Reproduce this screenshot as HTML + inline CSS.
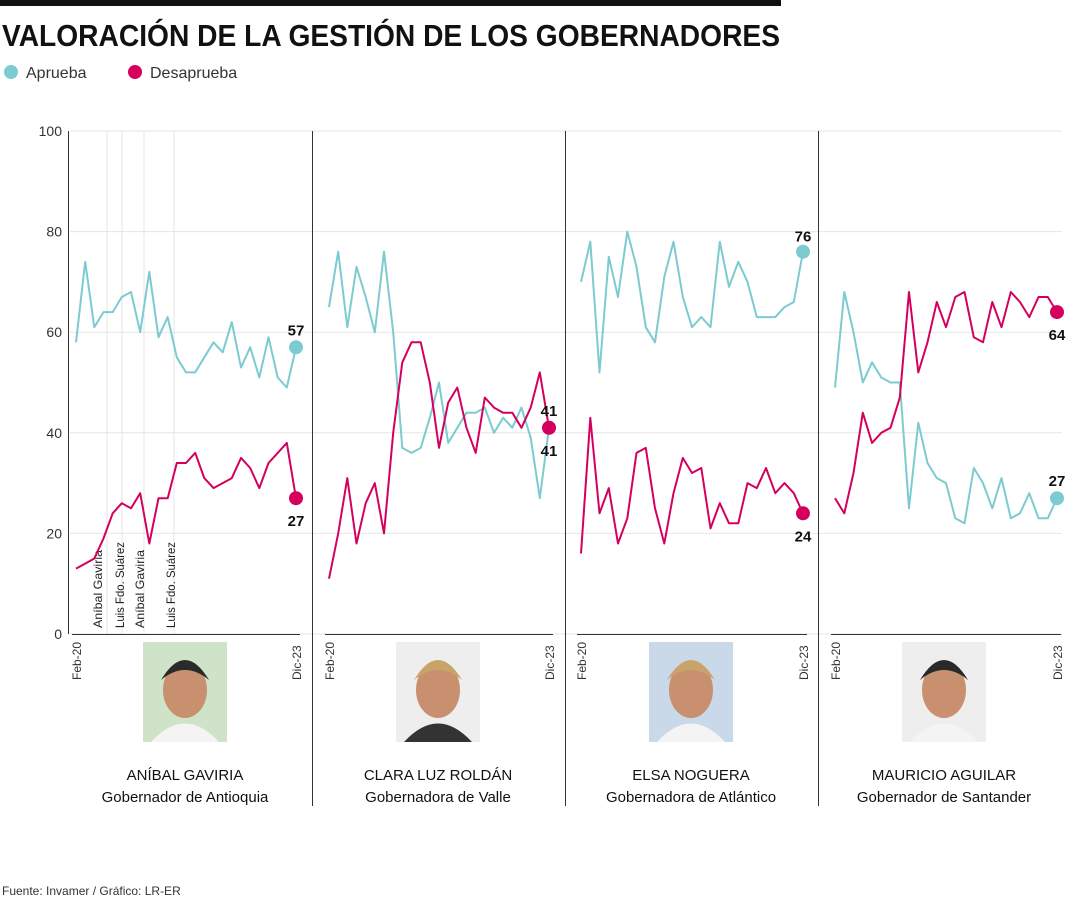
<!DOCTYPE html>
<html><head><meta charset="utf-8">
<style>
body{margin:0;background:#fff;width:1080px;height:900px;overflow:hidden;font-family:"Liberation Sans",sans-serif}
svg{display:block}
</style></head><body>
<svg id="s" width="1080" height="900" xmlns="http://www.w3.org/2000/svg" font-family="Liberation Sans, sans-serif">
<rect x="0" y="0" width="781" height="6" fill="#111"/>
<text x="2" y="46" font-size="31" font-weight="bold" fill="#111" textLength="778" lengthAdjust="spacingAndGlyphs">VALORACIÓN DE LA GESTIÓN DE LOS GOBERNADORES</text>
<circle cx="11" cy="72" r="7" fill="#7ccbd0"/>
<text x="26" y="78" font-size="16" fill="#333">Aprueba</text>
<circle cx="135" cy="72" r="7" fill="#d5005e"/>
<text x="150" y="78" font-size="16" fill="#333">Desaprueba</text>
<text x="2" y="895" font-size="12" fill="#333">Fuente: Invamer / Gráfico: LR-ER</text>
<g id="g"></g>
</svg>
<script>
const Y=v=>634-v*5.03;
const panels=[
{x0:76,x1:296,a:[58,74,61,64,64,67,68,60,72,59,63,55,52,52,55,58,56,62,53,57,51,59,51,49,57],d:[13,14,15,19,24,26,25,28,18,27,27,34,34,36,31,29,30,31,35,33,29,34,36,38,27],name:"ANÍBAL GAVIRIA",sub:"Gobernador de Antioquia",c:185},
{x0:329,x1:549,a:[65,76,61,73,67,60,76,60,37,36,37,43,50,38,41,44,44,45,40,43,41,45,39,27,41],d:[11,20,31,18,26,30,20,40,54,58,58,50,37,46,49,41,36,47,45,44,44,41,45,52,41],name:"CLARA LUZ ROLDÁN",sub:"Gobernadora de Valle",c:438},
{x0:581,x1:803,a:[70,78,52,75,67,80,73,61,58,71,78,67,61,63,61,78,69,74,70,63,63,63,65,66,76],d:[16,43,24,29,18,23,36,37,25,18,28,35,32,33,21,26,22,22,30,29,33,28,30,28,24],name:"ELSA NOGUERA",sub:"Gobernadora de Atlántico",c:691},
{x0:835,x1:1057,a:[49,68,60,50,54,51,50,50,25,42,34,31,30,23,22,33,30,25,31,23,24,28,23,23,27],d:[27,24,32,44,38,40,41,47,68,52,58,66,61,67,68,59,58,66,61,68,66,63,67,67,64],name:"MAURICIO AGUILAR",sub:"Gobernador de Santander",c:944}];
let h='';
[0,20,40,60,80,100].forEach(v=>{h+=`<line x1="70" x2="1062" y1="${Y(v)}" y2="${Y(v)}" stroke="#e6e6e6"/>`;h+=`<text x="62" y="${Y(v)+5}" font-size="14" fill="#333" text-anchor="end">${v}</text>`});
h+=`<line x1="68.5" x2="68.5" y1="131" y2="634" stroke="#333"/>`;
[312,565,818].forEach(x=>h+=`<line x1="${x}.5" x2="${x}.5" y1="131" y2="806" stroke="#333"/>`);
[107,122,144,174].forEach(x=>h+=`<line x1="${x}" x2="${x}" y1="131" y2="634" stroke="#e4e4e4"/>`);
[["Aníbal Gaviria",102],["Luis Fdo. Suárez",124],["Aníbal Gaviria",144],["Luis Fdo. Suárez",175]].forEach(([t,x])=>h+=`<text transform="translate(${x},628) rotate(-90)" font-size="12" fill="#222" textLength="${t.length>14?86:78}" lengthAdjust="spacingAndGlyphs">${t}</text>`);
const lbl={0:[[57,'a',-12],[27,'d',28]],1:[[41,'d',-12],[41,'d',28]],2:[[76,'a',-10],[24,'d',28]],3:[[64,'d',28],[27,'a',-12]]};
panels.forEach((p,i)=>{
 const st=(p.x1-p.x0)/24;
 h+=`<line x1="${p.x0-4}" x2="${p.x1+4}" y1="634.5" y2="634.5" stroke="#333"/>`;
 const pl=arr=>arr.map((v,k)=>`${(p.x0+k*st).toFixed(1)},${Y(v).toFixed(1)}`).join(' ');
 h+=`<polyline points="${pl(p.a)}" fill="none" stroke="#7ccbd0" stroke-width="2" stroke-linejoin="round"/>`;
 h+=`<polyline points="${pl(p.d)}" fill="none" stroke="#d5005e" stroke-width="2" stroke-linejoin="round"/>`;
 const la=p.a[24],ld=p.d[24];
 h+=`<circle cx="${p.x1}" cy="${Y(la)}" r="7" fill="#7ccbd0"/>`;
 h+=`<circle cx="${p.x1}" cy="${Y(ld)}" r="7" fill="#d5005e"/>`;
 lbl[i].forEach(([v,s,o])=>{const base=s=='a'?la:ld;h+=`<text x="${p.x1}" y="${Y(base)+o}" font-size="15" font-weight="bold" fill="#111" text-anchor="middle">${v}</text>`});
 h+=`<text transform="translate(${p.x0+5},680) rotate(-90)" font-size="12" fill="#333">Feb-20</text>`;
 h+=`<text transform="translate(${p.x1+5},680) rotate(-90)" font-size="12" fill="#333">Dic-23</text>`;
 const px=p.c-42;
 h+=`<rect x="${px}" y="642" width="84" height="100" fill="${i==0?'#cfe3c8':i==2?'#c9d9ea':'#eeeeee'}"/>`;
 h+=`<ellipse cx="${p.c}" cy="690" rx="22" ry="28" fill="#c8906f"/>`;
 h+=`<path d="M${px+8} 742 Q${p.c} 705 ${px+76} 742 Z" fill="${i==1?'#333':'#f4f4f4'}"/>`;
 h+=`<path d="M${p.c-24} 680 Q${p.c} 640 ${p.c+24} 680 Q${p.c} 660 ${p.c-24} 680Z" fill="${i==1||i==2?'#c9a46a':'#2a2a2a'}"/>`;
 h+=`<text x="${p.c}" y="780" font-size="15" fill="#111" text-anchor="middle">${p.name}</text>`;
 h+=`<text x="${p.c}" y="802" font-size="15" fill="#111" text-anchor="middle">${p.sub}</text>`;
});
document.getElementById('g').innerHTML=h;
</script>
</body></html>
